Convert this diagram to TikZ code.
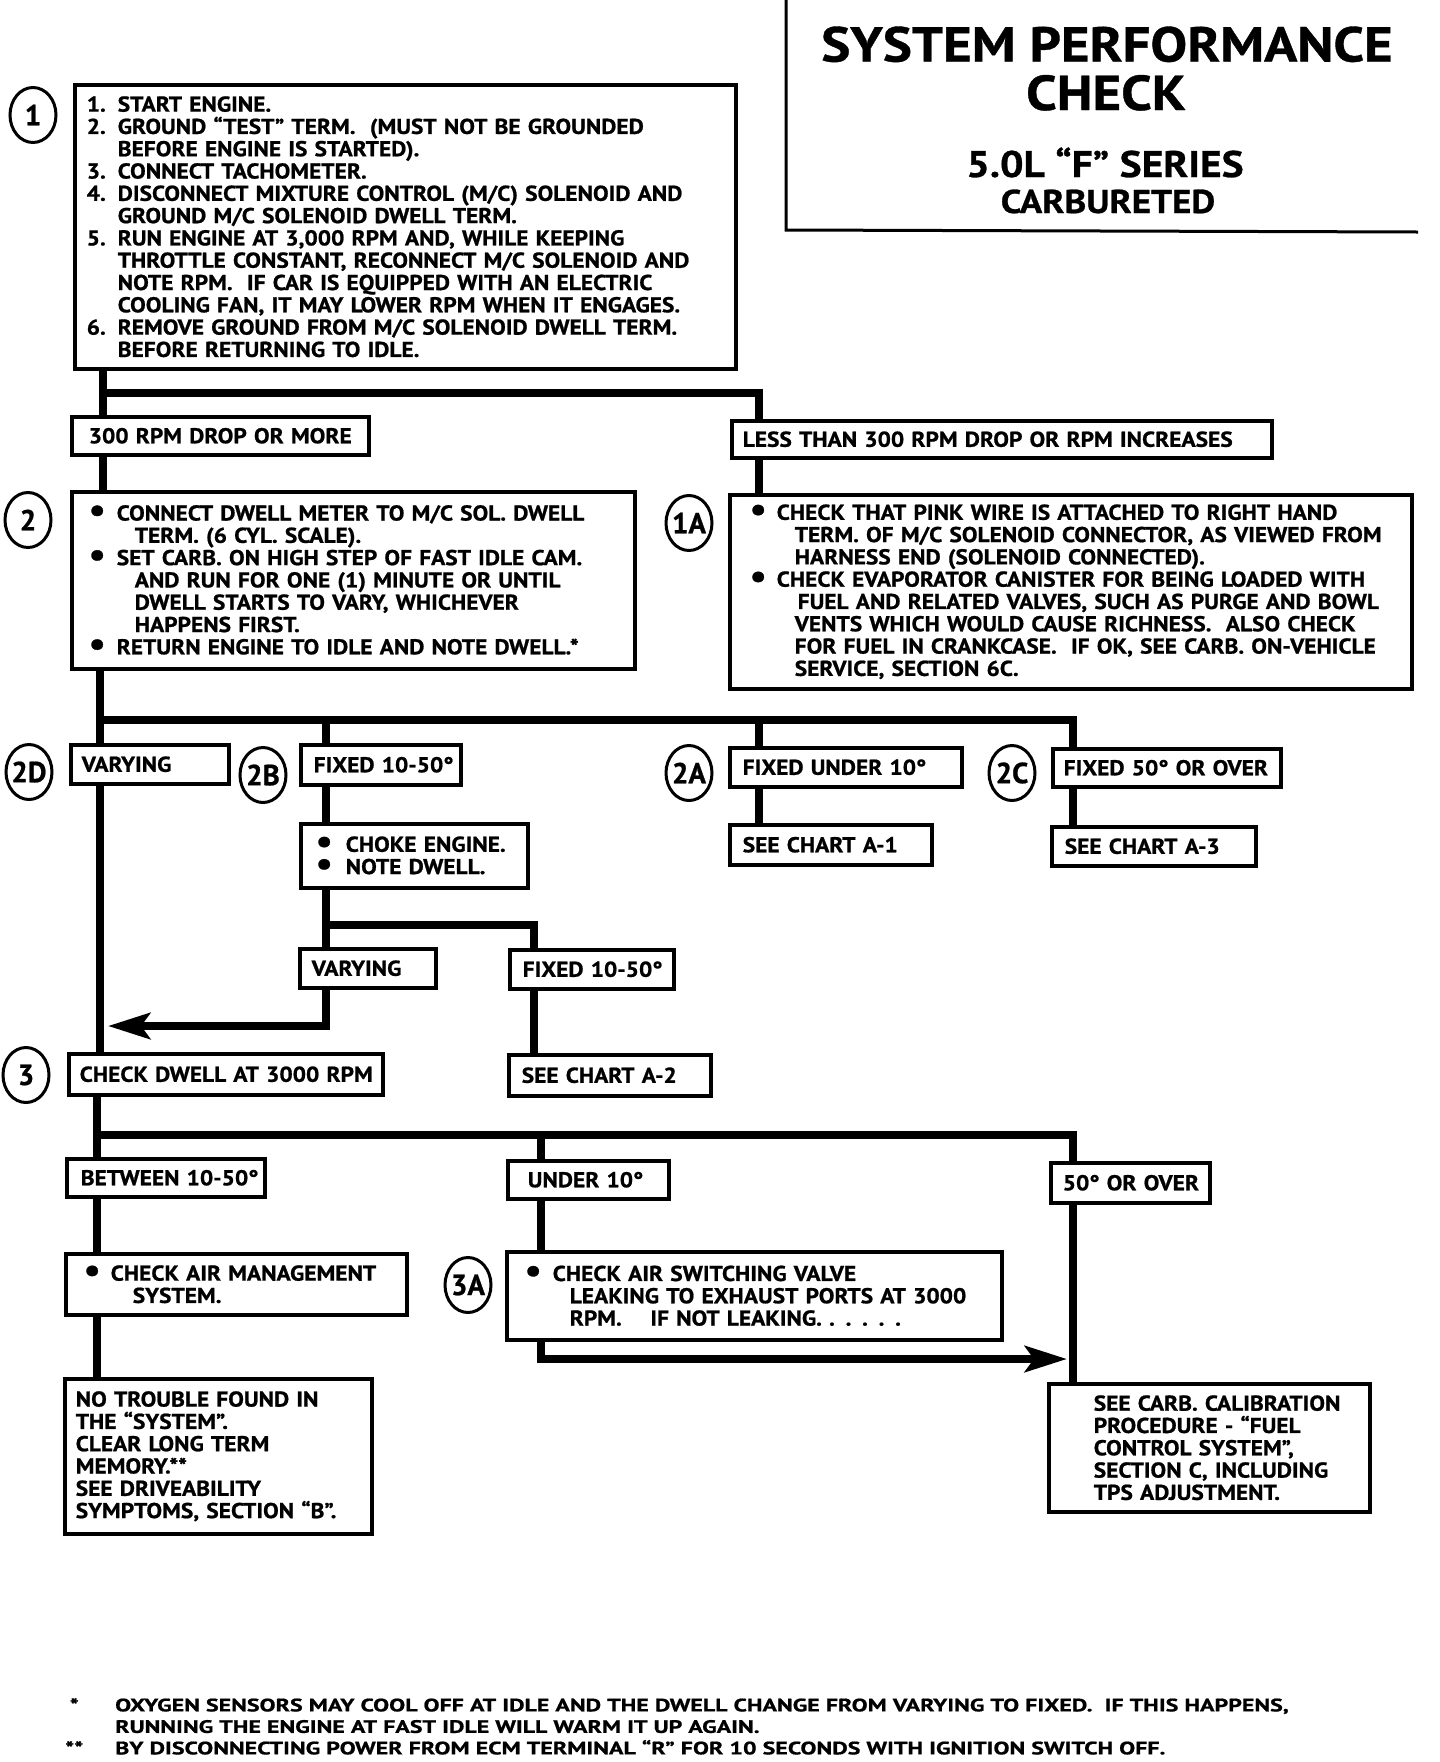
\documentclass[tikz,border=0pt]{standalone}
\usepackage{fontspec}
\setmainfont{PT Sans}[FakeStretch=1.09, BoldFeatures={FakeBold=0.9}]
\newfontfamily\titlefam{PT Sans}[FakeStretch=1.12, BoldFeatures={FakeBold=0.8}]
\newfontfamily\footfam{PT Sans}[FakeStretch=1.33, BoldFeatures={FakeBold=0.9}]
\newfontfamily\labfam{PT Sans}[BoldFeatures={FakeBold=0.8}]
\usetikzlibrary{arrows.meta,shapes.geometric,backgrounds}
\newcommand\mainf{\bfseries\fontsize{21.5}{22.3}\selectfont}
\newcommand\labf{\labfam\bfseries\fontsize{29}{29}\selectfont}
\newcommand\footf{\footfam\bfseries\fontsize{18}{21.5}\selectfont}
\newcommand\itm[1]{\makebox[31pt][l]{#1}}
\newcommand\ind{\hspace*{31pt}}
\newcommand\bul[1]{\makebox[#1][l]{\raisebox{-1pt}{\scalebox{1.6}{\textbullet}}}}
\tikzset{
  x=1pt, y=-1pt,
  box/.style={draw, line width=3.5pt, fill=white, anchor=north west, inner xsep=12pt, inner ysep=0pt, align=left, font=\mainf},
  conn/.style={line width=8pt},
  lab/.style={draw, ellipse, line width=3pt, fill=white, minimum width=46pt, minimum height=55pt, inner sep=-7pt, font=\labf},
  ttl/.style={anchor=base, inner sep=0pt},
  tip/.style={-{Stealth[length=42pt,width=26pt,inset=9pt]}},
}
\begin{document}
\begin{tikzpicture}
\useasboundingbox (0,0) rectangle (1440,1762);
% title
\draw[line width=3pt] (786,0) -- (786,230) -- (1418,232);
\node[ttl, font=\titlefam\bfseries\fontsize{49}{49}\selectfont] (t1) at (1107,61.5) {SYSTEM PERFORMANCE};
\node[ttl, font=\titlefam\bfseries\fontsize{49}{49}\selectfont] (t2) at (1106,110) {CHECK};
\node[ttl, font=\titlefam\bfseries\fontsize{37}{37}\selectfont] (t3) at (1105,177) {5.0L “F” SERIES};
\node[ttl, font=\titlefam\bfseries\fontsize{33}{33}\selectfont] (t4) at (1108,213) {CARBURETED};

% boxes
\node[box, minimum height=284pt, text width=637pt] (b1) at (73,83) {%
\itm{1.}START ENGINE.\\
\itm{2.}GROUND “TEST” TERM.\ \ (MUST NOT BE GROUNDED\\
\ind BEFORE ENGINE IS STARTED).\\
\itm{3.}CONNECT TACHOMETER.\\
\itm{4.}DISCONNECT MIXTURE CONTROL (M/C) SOLENOID AND\\
\ind GROUND M/C SOLENOID DWELL TERM.\\
\itm{5.}RUN ENGINE AT 3,000 RPM AND, WHILE KEEPING\\
\ind THROTTLE CONSTANT, RECONNECT M/C SOLENOID AND\\
\ind NOTE RPM.\ \ IF CAR IS EQUIPPED WITH AN ELECTRIC\\
\ind COOLING FAN, IT MAY LOWER RPM WHEN IT ENGAGES.\\
\itm{6.}REMOVE GROUND FROM M/C SOLENOID DWELL TERM.\\
\ind BEFORE RETURNING TO IDLE.};
\node[box, inner xsep=17pt, minimum height=38pt, text width=263pt] (r300) at (70,415) {\mbox{300 RPM DROP OR MORE}};
\node[box, inner xsep=11pt, minimum height=37pt, text width=518pt] (rless) at (730,419) {\mbox{LESS THAN 300 RPM DROP OR RPM INCREASES}};
\node[box, inner xsep=17pt, minimum height=177pt, text width=529pt] (b2) at (70,490) {%
\bul{28pt}CONNECT DWELL METER TO M/C SOL. DWELL\\
\hspace*{46pt}TERM. (6 CYL. SCALE).\\
\bul{28pt}SET CARB. ON HIGH STEP OF FAST IDLE CAM.\\
\hspace*{46pt}AND RUN FOR ONE (1) MINUTE OR UNTIL\\
\hspace*{46pt}DWELL STARTS TO VARY, WHICHEVER\\
\hspace*{46pt}HAPPENS FIRST.\\
\bul{28pt}RETURN ENGINE TO IDLE AND NOTE DWELL.*};
\node[box, inner xsep=20pt, minimum height=194pt, text width=642pt] (b1a) at (728,493) {%
\bul{27pt}CHECK THAT PINK WIRE IS ATTACHED TO RIGHT HAND\\
\hspace*{45pt}TERM. OF M/C SOLENOID CONNECTOR, AS VIEWED FROM\\
\hspace*{45pt}HARNESS END (SOLENOID CONNECTED).\\
\bul{27pt}CHECK EVAPORATOR CANISTER FOR BEING LOADED WITH\\
\hspace*{48pt}FUEL AND RELATED VALVES, SUCH AS PURGE AND BOWL\\
\hspace*{45pt}VENTS WHICH WOULD CAUSE RICHNESS.\ \ ALSO CHECK\\
\hspace*{45pt}FOR FUEL IN CRANKCASE.\ \ IF OK, SEE CARB. ON-VEHICLE\\
\hspace*{45pt}SERVICE, SECTION 6C.};
\node[box, inner xsep=11pt, minimum height=39pt, text width=136pt] (v2d) at (69,743) {\mbox{VARYING}};
\node[box, inner xsep=13pt, minimum height=40pt, text width=134pt] (f2b) at (299,743) {\mbox{FIXED 10-50°}};
\node[box, inner xsep=13pt, minimum height=39pt, text width=206pt] (f2a) at (728,746) {\mbox{FIXED UNDER 10°}};
\node[box, inner xsep=11pt, minimum height=38pt, text width=206pt] (f2c) at (1051,747) {\mbox{FIXED 50° OR OVER}};
\node[box, inner xsep=13pt, minimum height=40pt, text width=176pt] (ca1) at (728,823) {\mbox{SEE CHART A-1}};
\node[box, inner xsep=13pt, minimum height=39pt, text width=178pt] (ca3) at (1050,825) {\mbox{SEE CHART A-3}};
\node[box, inner xsep=15pt, minimum height=64pt, text width=197pt] (choke) at (299,822) {%
\bul{30pt}CHOKE ENGINE.\\
\bul{30pt}NOTE DWELL.};
\node[box, inner xsep=12pt, minimum height=39pt, text width=112pt] (vary2) at (298,947) {\mbox{VARYING}};
\node[box, inner xsep=13pt, minimum height=39pt, text width=138pt] (fix2) at (508,948) {\mbox{FIXED 10-50°}};
\node[box, inner xsep=11pt, minimum height=41pt, text width=292pt] (dwell3) at (67,1052) {\mbox{CHECK DWELL AT 3000 RPM}};
\node[box, inner xsep=13pt, minimum height=41pt, text width=176pt] (ca2) at (507,1053) {\mbox{SEE CHART A-2}};
\node[box, inner xsep=14pt, minimum height=38pt, text width=170pt] (btw) at (65,1157) {\mbox{BETWEEN 10-50°}};
\node[box, inner xsep=20pt, minimum height=38pt, text width=121pt] (und) at (506,1159) {\mbox{UNDER 10°}};
\node[box, inner xsep=12pt, minimum height=40pt, text width=135pt] (over) at (1049,1161) {\mbox{50° OR OVER}};
\node[box, inner xsep=18pt, minimum height=61pt, text width=305pt] (airm) at (64,1252) {%
\bul{27pt}CHECK AIR MANAGEMENT\\
\hspace*{49pt}SYSTEM.};
\node[box, inner xsep=18pt, minimum height=88pt, text width=459pt] (airs) at (505,1250) {%
\bul{28pt}CHECK AIR SWITCHING VALVE\\
\hspace*{45pt}LEAKING TO EXHAUST PORTS AT 3000\\
\hspace*{45pt}RPM.\ \ \ \ IF NOT LEAKING. . . . . .};
\node[box, inner xsep=11pt, minimum height=155pt, text width=285pt] (notr) at (63,1377) {%
NO TROUBLE FOUND IN\\
THE “SYSTEM”.\\
CLEAR LONG TERM\\
MEMORY.**\\
SEE DRIVEABILITY\\
SYMPTOMS, SECTION “B”.};
\node[box, inner xsep=24pt, minimum height=128pt, text width=273pt] (carb) at (1047,1382) {%
\hspace*{21pt}SEE CARB. CALIBRATION\\
\hspace*{21pt}PROCEDURE - “FUEL\\
\hspace*{21pt}CONTROL SYSTEM”,\\
\hspace*{21pt}SECTION C, INCLUDING\\
\hspace*{21pt}TPS ADJUSTMENT.};

% step labels
\node[lab] (c1) at (33,115) {1};
\node[lab] (c2) at (28,520) {2};
\node[lab] (c1a) at (689,523) {1A};
\node[lab] (c2d) at (29,772) {2D};
\node[lab] (c2b) at (263,775) {2B};
\node[lab] (c2a) at (689,773) {2A};
\node[lab] (c2c) at (1012,773) {2C};
\node[lab] (c3) at (26,1075) {3};
\node[lab] (c3a) at (468,1285) {3A};

% footnotes
\node[anchor=north west, inner sep=0pt, align=left, font=\footf] (fn) at (56,1698) {%
\makebox[59pt][l]{\makebox[36pt][c]{*}}OXYGEN SENSORS MAY COOL OFF AT IDLE AND THE DWELL CHANGE FROM VARYING TO FIXED.\ \ IF THIS HAPPENS,\\
\hspace*{59pt}RUNNING THE ENGINE AT FAST IDLE WILL WARM IT UP AGAIN.\\
\makebox[59pt][l]{\makebox[36pt][c]{**}}BY DISCONNECTING POWER FROM ECM TERMINAL “R” FOR 10 SECONDS WITH IGNITION SWITCH OFF.};

% junction coordinates
\coordinate (jA) at (103,393);
\coordinate (xR) at (759,0);
\coordinate (jB) at (100,720);
\coordinate (xB) at (326,0);
\coordinate (xC) at (1073,0);
\coordinate (jC) at (326,925);
\coordinate (xF) at (534,0);
\coordinate (tipL) at (108,1026);
\coordinate (jD) at (97,1135);
\coordinate (xU) at (541,0);
\coordinate (tipR) at (1067,1359);

\begin{pgfonlayer}{background}
\draw[conn] (b1.south -| jA) -- (b2.north -| jA);
\draw[conn] (jA) -| (rless.north -| xR);
\draw[conn] (rless.south -| xR) -- (b1a.north -| xR);
\draw[conn] (b2.south -| jB) -- (dwell3.north -| jB);
\draw[conn] (jB) -| (f2c.north -| xC);
\draw[conn] (jB -| xB) -- (f2b.north -| xB);
\draw[conn] (jB -| xR) -- (f2a.north -| xR);
\draw[conn] (f2a.south -| xR) -- (ca1.north -| xR);
\draw[conn] (f2c.south -| xC) -- (ca3.north -| xC);
\draw[conn] (f2b.south -| xB) -- (choke.north -| xB);
\draw[conn] (choke.south -| xB) -- (vary2.north -| xB);
\draw[conn] (jC) -| (fix2.north -| xF);
\draw[conn] (fix2.south -| xF) -- (ca2.north -| xF);
\draw[conn, tip] (vary2.south -| xB) |- (tipL);
\draw[conn] (dwell3.south -| jD) -- (notr.north -| jD);
\draw[conn] (jD) -| (over.north -| xC);
\draw[conn] (jD -| xU) -- (und.north -| xU);
\draw[conn] (und.south -| xU) -- (airs.north -| xU);
\draw[conn, tip] (airs.south -| xU) |- (tipR);
\draw[conn] (over.south -| xC) -- (carb.north -| xC);
\end{pgfonlayer}
\end{tikzpicture}
\end{document}
